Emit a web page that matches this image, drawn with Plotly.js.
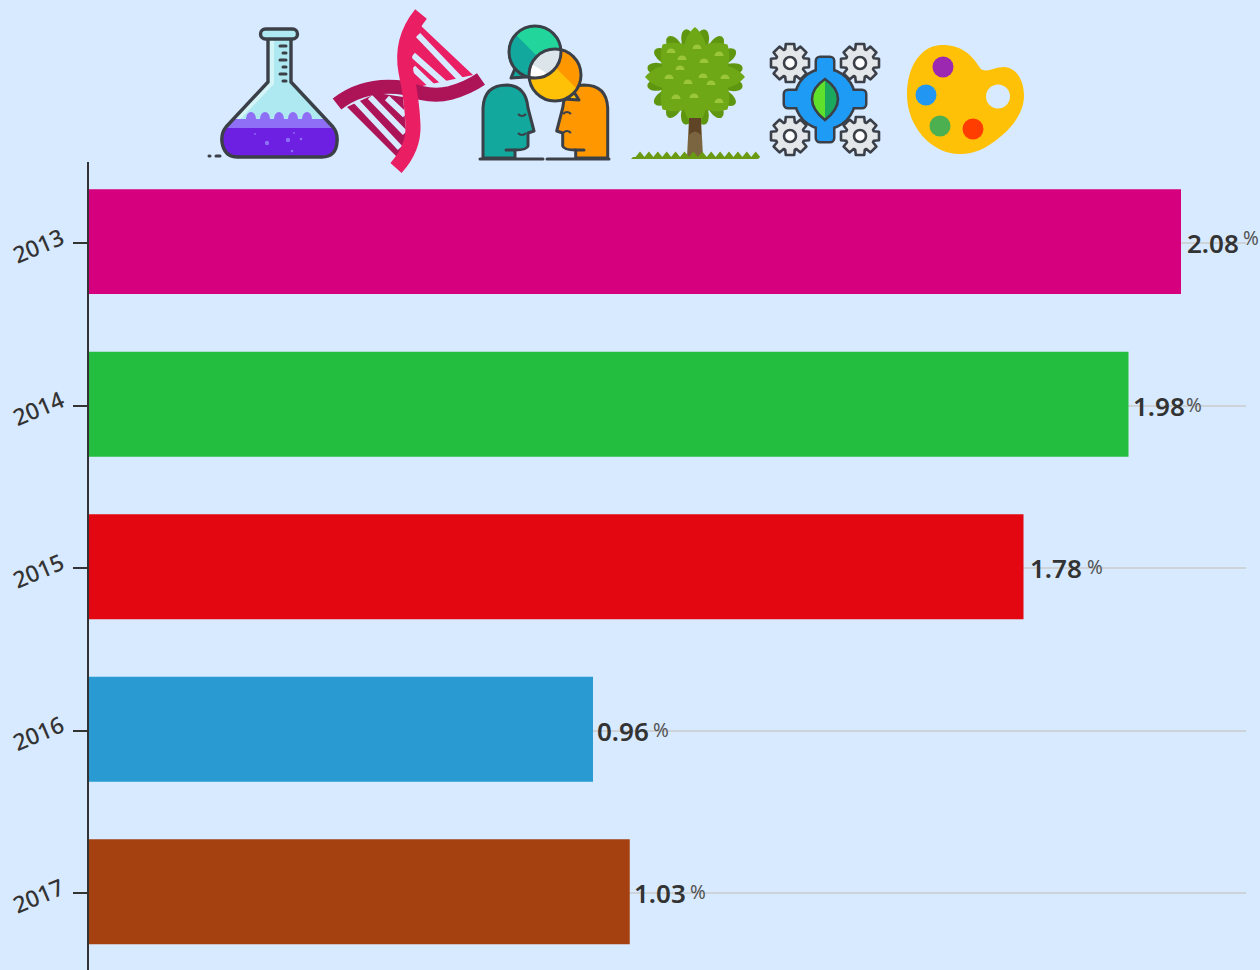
<!DOCTYPE html>
<html><head><meta charset="utf-8">
<script src="https://cdn.plot.ly/plotly-3.0.1.min.js"></script>
<style>html,body{margin:0;padding:0;background:#d8eaff;overflow:hidden}</style>
</head><body><div id="chart" style="width:1260px;height:970px"></div>
<script>
const years = ['2013','2014','2015','2016','2017'];
const values = [2.08,1.98,1.78,0.96,1.03];
const barColors = ['#d6007f','#23be3f','#e30711','#2a9bd2','#a54011'];
const valueShift = [5,3,5,3,3];
const pctShift = [61,56,62,59,59];
const pctRaise = [5,1,1,1,1];

const BG='#d8eaff', INK='#3b4048';
const L=89,T=162,PW=1157,PH=808;

function gearPath(cx,cy,ro,ri,n){
  let d='';
  for(let i=0;i<n;i++){
    const a=i*2*Math.PI/n, w=Math.PI/n*0.55, w2=Math.PI/n*0.85;
    const p=[[ri,a-w2],[ro,a-w],[ro,a+w],[ri,a+w2]];
    p.forEach((q,j)=>{d+=((i===0&&j===0)?'M':'L')+(cx+q[0]*Math.cos(q[1])).toFixed(1)+' '+(cy+q[0]*Math.sin(q[1])).toFixed(1)+' ';});
  }
  return d+'Z';
}
function smallGear(cx,cy){
  return `<path d="${gearPath(cx,cy,19.5,14.5,8)}" fill="#e3e7ea" stroke="${INK}" stroke-width="2.6" stroke-linejoin="round"/>
  <circle cx="${cx}" cy="${cy}" r="6" fill="#fff" stroke="${INK}" stroke-width="2.6"/>`;
}
function treeBody(){
  let s='';
  const cx=695,cy=77;
  for(let i=0;i<16;i++){const a=i*Math.PI/8+0.2;
    s+=`<ellipse cx="${cx+37*Math.cos(a)}" cy="${cy+37*Math.sin(a)}" rx="11.5" ry="6.5" transform="rotate(${a*180/Math.PI} ${cx+37*Math.cos(a)} ${cy+37*Math.sin(a)})" fill="#5f9610"/>`;}
  s+=`<circle cx="${cx}" cy="${cy}" r="36" fill="#5f9610"/>`;
  for(let i=0;i<8;i++){const r=i*45, odd=i%2===1, R=odd?46:50, W=odd?24:17;
    s+=`<path d="M${cx} ${cy} C${cx-W} ${cy-16} ${cx-W+3} ${cy-R+12} ${cx} ${cy-R} C${cx+W-3} ${cy-R+12} ${cx+W} ${cy-16} ${cx} ${cy}Z" fill="#6fa816" transform="rotate(${r} ${cx} ${cy})"/>`;}
  [[697,47],[671,51],[719,54],[682,58],[704,61],[680,68],[669,77],[703,76],[725,77],[688,82],[711,83],[676,97],[694,96],[719,101]].forEach(p=>{
    s+=`<path d="M${p[0]-4.5} ${p[1]+2} A4.5 4.5 0 0 1 ${p[0]+4.5} ${p[1]+2}Z" fill="#9cc63a"/>`;});
  return s;
}
function grass(){
  let d='M631 159 L633 157';
  for(let i=0;i<14;i++){d+=` L${640+i*8.9-4.5} 157 L${640+i*8.9} 151.500 L${640+i*8.9+4.5} 157`;}
  return d+' L758 159Z';
}
const head='M483 158 V108 Q484 85 507 85 Q526 86 528 108 L534 131 L528 133 V146 Q527 150 515 150 V158 Z';

const icons = [
 {x:205,y:20,w:140,h:145,body:`
  <defs><clipPath id="fl"><path d="M268 38 V82 L226 127 Q221 133 222 142 Q224 157 238 157 H322 Q336 157 337 142 Q338 133 333 127 L291 82 V38Z"/></clipPath></defs>
  <g clip-path="url(#fl)">
   <rect x="215" y="30" width="130" height="130" fill="#aee8f0"/>
   <path d="M268 38 h6 V84 L232 128 H222Z" fill="#d3f5f8"/>
   <path d="M215 119 H246 A5 7 0 0 1 256 119 H260 A5 7 0 0 1 270 119 H274 A5 7 0 0 1 284 119 H288 A5 7 0 0 1 298 119 H302 A5 7 0 0 1 312 119 H345 V130 H215Z" fill="#8f6ff5"/>
   <rect x="215" y="128" width="130" height="32" fill="#6d1fe2"/>
   <g fill="#8f6ff5"><circle cx="267" cy="143" r="2.2"/><circle cx="288" cy="140" r="2.2"/><circle cx="292" cy="151" r="1.3"/><circle cx="301" cy="139" r="1.3"/><circle cx="255" cy="134" r="0.9"/><circle cx="294" cy="133" r="0.9"/></g>
  </g>
  <path d="M268 38 V82 L226 127 Q221 133 222 142 Q224 157 238 157 H322 Q336 157 337 142 Q338 133 333 127 L291 82 V38" fill="none" stroke="${INK}" stroke-width="3.4"/>
  <rect x="260.500" y="29" width="37" height="10" rx="5" fill="#aee8f0" stroke="${INK}" stroke-width="3.4"/>
  <g stroke="${INK}" stroke-width="3" stroke-linecap="round"><path d="M280 46H286M283 53H286M280 60H286M283 67H286M280 74H286M283 81H286"/><path d="M209 156H210M216 156H220"/></g>`},
 {x:328,y:5,w:162,h:172,body:`
  <path d="M420 25 L473 75 L413 88 L403 50Z" fill="#e91e63"/>
  <path d="M347 107 L400 160 L407 143 L403 97 L377 93Z" fill="#ad1457"/>
  <g stroke="${BG}" stroke-width="6" fill="none">
   <path d="M418 35 L463 82M413 55 L450 88M413 68 L433 87"/>
   <path d="M355 100 L400 148M370 97 L405 133M387 98 L405 115"/>
  </g>
  <path d="M337 104 Q365 82 405 88 Q430 98 450 93 Q468 88 481 79" fill="none" stroke="#ad1457" stroke-width="14"/>
  <path d="M421 14 Q400 40 406 72 Q412 100 413 125 Q414 148 396 168" fill="none" stroke="#e91e63" stroke-width="15"/>`},
 {x:478,y:20,w:135,h:145,body:`
  <g stroke="${INK}" stroke-width="3" stroke-linejoin="round">
   <path d="${head}" fill="#12a89d"/>
   <path d="${head}" fill="#ff9800" transform="translate(1090.7 0) scale(-1 1)"/>
  </g>
  <path d="M480 159H543M547 159H609M506 150H515M575 150H584" stroke="${INK}" stroke-width="3" stroke-linecap="round"/>
  <path d="M518 118Q522 122 526 118M518 137Q522 141 526 137M563 118Q567 114 571 118M563 137Q567 133 571 137" transform="translate(0 -4)" fill="none" stroke="${INK}" stroke-width="2"/>
  <defs><clipPath id="c1"><circle cx="535" cy="52" r="26"/></clipPath><clipPath id="c2"><circle cx="555" cy="75" r="26"/></clipPath></defs>
  <path d="M516 66 L511 78 L526 77Z" fill="#12a89d" stroke="${INK}" stroke-width="3" stroke-linejoin="round"/>
  <circle cx="535" cy="52" r="26" fill="#12a89d"/>
  <path d="M515 34 L560 79 L565 20 L520 20Z" fill="#21d59b" clip-path="url(#c1)"/>
  <circle cx="535" cy="52" r="26" fill="none" stroke="${INK}" stroke-width="3"/>
  <path d="M574 92 L579 100 L563 99Z" fill="#ffc107" stroke="${INK}" stroke-width="3" stroke-linejoin="round"/>
  <circle cx="555" cy="75" r="26" fill="#ffc107"/>
  <path d="M548 60 L590 102 L590 40 L548 40Z" fill="#ff9800" clip-path="url(#c2)"/>
  <g clip-path="url(#c2)"><circle cx="535" cy="52" r="26" fill="#dce6ea"/></g>
  <g clip-path="url(#c2)"><path d="M525 60 L558 80 L530 95Z" fill="#fff" clip-path="url(#c1)"/></g>
  <circle cx="555" cy="75" r="26" fill="none" stroke="${INK}" stroke-width="3"/>
  <g clip-path="url(#c2)"><circle cx="535" cy="52" r="26" fill="none" stroke="${INK}" stroke-width="3"/></g>`},
 {x:628,y:22,w:134,h:140,body:`
  <path d="M689 118 H701 L703 157 H687Z" fill="#7a6540"/>
  <path d="${grass()}" fill="#6a9a12"/>
  ${treeBody()}
  <path d="M689 118 H701 V135 Q695 128 689 135Z" fill="#5f4526"/>`},
 {x:765,y:38,w:120,h:122,body:`
  <g stroke="${INK}" stroke-width="5" stroke-linejoin="round"><rect x="817" y="58" width="16" height="83" rx="3" fill="${INK}"/><rect x="785" y="91" width="80" height="16" rx="3" fill="${INK}"/><circle cx="825" cy="99" r="29" fill="${INK}"/></g>
  <g fill="#1e9bf5"><rect x="817" y="58" width="16" height="83" rx="3"/><rect x="785" y="91" width="80" height="16" rx="3"/><circle cx="825" cy="99" r="29"/></g>
  ${smallGear(790,63)}${smallGear(860,63)}${smallGear(790,136)}${smallGear(860,136)}
  <path d="M825 79 Q812 88 812 99 Q812 110 825 120Z" fill="#5fe02a"/>
  <path d="M825 79 Q838 88 838 99 Q838 110 825 120Z" fill="#1aa85f"/>
  <path d="M825 79 Q812 88 812 99 Q812 110 825 120 Q838 110 838 99 Q838 88 825 79Z" fill="none" stroke="${INK}" stroke-width="2.6"/>`},
 {x:902,y:40,w:127,h:119,body:`
  <path d="M942 45 C962 45 972 55 980 68 C986 74 994 67 1004 67 C1018 68 1024 82 1024 96 C1024 112 1012 128 1000 137 C987 148 975 154 960 154 C930 154 907 125 907 95 C907 65 922 45 942 45Z" fill="#ffc107"/>
  <circle cx="943" cy="67" r="10.500" fill="#9c27b0"/>
  <circle cx="926" cy="95" r="10.500" fill="#2196f3"/>
  <circle cx="998" cy="96.500" r="12" fill="${BG}"/>
  <circle cx="940" cy="126" r="10.500" fill="#4caf50"/>
  <circle cx="973" cy="129" r="10.500" fill="#ff3d00"/>`}
];

const images = icons.map(ic=>({
  source:'data:image/svg+xml;charset=utf-8,'+encodeURIComponent(
   `<svg xmlns="http://www.w3.org/2000/svg" width="${ic.w}" height="${ic.h}" viewBox="${ic.x} ${ic.y} ${ic.w} ${ic.h}">${ic.body}</svg>`),
  xref:'paper',yref:'paper',
  x:(ic.x-L)/PW, y:1-(ic.y-T)/PH,
  sizex:ic.w/PW, sizey:ic.h/PH,
  xanchor:'left',yanchor:'top',sizing:'stretch',layer:'above'
}));

const annotations = [];
years.forEach((y,i)=>{
  annotations.push({x:values[i],y:i,xref:'x',yref:'y',text:values[i].toFixed(2),showarrow:false,
    xanchor:'left',yanchor:'middle',xshift:valueShift[i],align:'left',borderpad:0,
    font:{family:'"Noto Sans",sans-serif',size:26,color:'#333',weight:600}});
  annotations.push({x:values[i],y:i,xref:'x',yref:'y',text:'%',showarrow:false,
    xanchor:'left',yanchor:'middle',xshift:pctShift[i],yshift:pctRaise[i],align:'left',borderpad:0,
    font:{family:'"Noto Sans",sans-serif',size:19,color:'#555'}});
});

Plotly.newPlot('chart',[{
  type:'bar',orientation:'h',x:values,y:years,width:0.646,offset:-0.333,
  marker:{color:barColors,line:{width:0}},hoverinfo:'x+y'
}],{
  width:1260,height:970,
  margin:{l:L,t:T,r:1260-L-PW,b:0,pad:0},
  paper_bgcolor:BG,plot_bgcolor:BG,showlegend:false,
  xaxis:{range:[0,2.2038],visible:false,fixedrange:true},
  yaxis:{type:'category',categoryorder:'array',categoryarray:years,range:[4.472,-0.5],
    showgrid:true,gridcolor:'#cdd3d8',gridwidth:2,
    showline:true,linecolor:'#333',linewidth:2,
    ticks:'outside',ticklen:14,tickwidth:2,tickcolor:'#333',tickangle:-23,ticklabelstandoff:7,ticklabelshift:7,
    tickfont:{family:'"Noto Sans",sans-serif',size:23,color:'#333',weight:500},fixedrange:true},
  images,annotations
},{displayModeBar:false});
</script></body></html>
